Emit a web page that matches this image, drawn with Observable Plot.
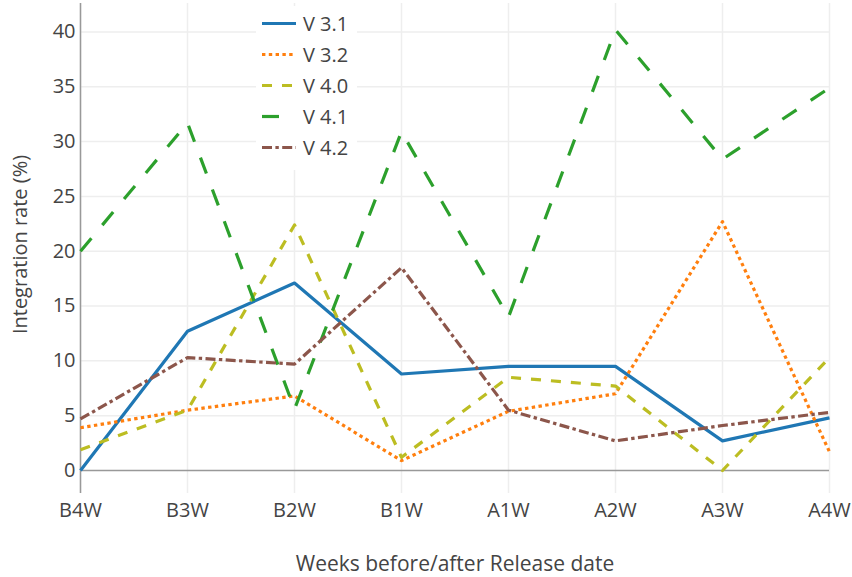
<!DOCTYPE html>
<html>
<head>
<meta charset="utf-8">
<script src="https://cdn.jsdelivr.net/npm/d3@7"></script>
<script src="https://cdn.jsdelivr.net/npm/@observablehq/plot@0.6"></script>
<style>
  html, body { margin: 0; padding: 0; background: #fff; }
  #wrap { position: relative; width: 852px; height: 577px; font-family: "Open Sans", sans-serif; }
  #legend { position: absolute; left: 0; top: 0; }
</style>
</head>
<body>
<div id="wrap"></div>
<script>
const weeks = ["B4W", "B3W", "B2W", "B1W", "A1W", "A2W", "A3W", "A4W"];
const seriesNames = ["V 3.1", "V 3.2", "V 4.0", "V 4.1", "V 4.2"];
const v31 = [0, 12.7, 17.1, 8.8, 9.5, 9.5, 2.7, 4.8];
const v32 = [3.9, 5.5, 6.8, 0.9, 5.4, 7.0, 22.7, 1.7];
const v40 = [1.9, 5.5, 22.4, 1.2, 8.5, 7.7, 0, 10.3];
const v41 = [20.0, 31.7, 5.6, 30.9, 14.0, 40.2, 28.4, 34.9];
const v42 = [4.7, 10.3, 9.7, 18.5, 5.5, 2.7, 4.1, 5.3];
const yTicks = [0, 5, 10, 15, 20, 25, 30, 35, 40];
const xTitle = "Weeks before/after Release date";
const yTitle = "Integration rate (%)";

const colors = ["#1f77b4", "#ff7f0e", "#bcbd22", "#2ca02c", "#8c564b"];
const dashes = [null, "3.4,3.4", "10,10", "17,17", "10,3.4,3.4,3.4"];
const values = [v31, v32, v40, v41, v42];

const series = seriesNames.map((name, k) => ({name, values: values[k], color: colors[k], dash: dashes[k]}));
const rows = series.flatMap(s => weeks.map((w, i) => ({week: w, value: s.values[i], series: s.name})));

const chart = Plot.plot({
  width: 852,
  height: 577,
  marginLeft: 80,
  marginRight: 23,
  marginTop: 3,
  marginBottom: 84,
  style: {fontFamily: "Open Sans", fontSize: "20px", color: "#444", background: "white", overflow: "visible"},
  x: {type: "point", domain: weeks, padding: 0, tickSize: 0, tickPadding: 9, label: null},
  y: {domain: [-2.1, 42.6], ticks: yTicks, tickSize: 0, tickPadding: 5, label: null},
  marks: [
    Plot.ruleX(weeks, {stroke: "#eeeeee", strokeWidth: 1.5}),
    Plot.ruleY(yTicks.filter(t => t !== 0), {stroke: "#eeeeee", strokeWidth: 1.5}),
    Plot.ruleY([0], {stroke: "#999999", strokeWidth: 1.5}),
    Plot.ruleX([weeks[0]], {stroke: "#999999", strokeWidth: 1.5}),
    ...series.map(s => Plot.line(rows.filter(r => r.series === s.name), {
      x: "week", y: "value", stroke: s.color, strokeWidth: 3.2,
      strokeDasharray: s.dash, strokeLinecap: "butt", strokeLinejoin: "round"
    })),
    Plot.text([xTitle], {frameAnchor: "bottom", dy: 77, fontSize: 21, fill: "#444", lineAnchor: "bottom"}),
    Plot.text([yTitle], {frameAnchor: "left", textAnchor: "middle", dx: -60, dy: -4, rotate: -90, fontSize: 20, fill: "#444"})
  ]
});

const wrap = document.getElementById("wrap");
wrap.appendChild(chart);

// Legend overlay
const lg = d3.select(wrap).append("svg")
  .attr("id", "legend")
  .attr("width", 852).attr("height", 577)
  .style("pointer-events", "none");
lg.append("rect").attr("x", 256).attr("y", 6).attr("width", 101).attr("height", 164).attr("fill", "white");
const item = lg.selectAll("g.item").data(series).join("g")
  .attr("class", "item")
  .attr("transform", (d, i) => `translate(0,${23.5 + i * 31})`);
item.append("line")
  .attr("x1", 262).attr("x2", 296).attr("y1", 0).attr("y2", 0)
  .attr("stroke", d => d.color).attr("stroke-width", 3.2)
  .attr("stroke-dasharray", d => d.dash);
item.append("text")
  .attr("x", 303).attr("y", 0).attr("dy", "0.35em")
  .attr("font-family", "Open Sans").attr("font-size", 20).attr("fill", "#444")
  .text(d => d.name);
</script>
</body>
</html>
